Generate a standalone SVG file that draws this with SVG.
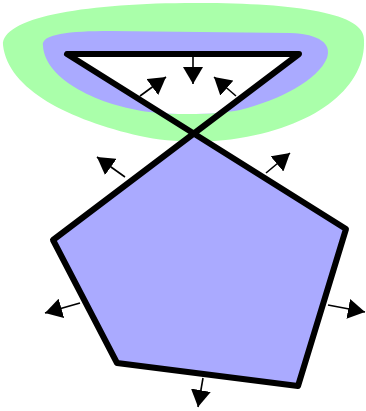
<svg xmlns="http://www.w3.org/2000/svg" width="366" height="411" viewBox="0 0 366 411">
<style>
.green{fill:#aaffaa;stroke:none}
.blue{fill:#aaaaff;stroke:none}
.hole{fill:#ffffff;stroke:none}
.outline{fill:none;stroke:#000;stroke-width:6;stroke-linejoin:round}
.arrow{stroke:#000;stroke-width:1.6;fill:none;marker-end:url(#head)}
</style>
<defs>
<marker id="head" markerUnits="userSpaceOnUse" markerWidth="17" markerHeight="20" viewBox="0 0 17 20" refX="17" refY="10" orient="auto">
<path d="M0,0 L17,10 L0,20 Z" fill="#000"/>
</marker>
<clipPath id="innerClip">
<path d="M43,46 C40,34 70,31 110,31 L290,33 C320,34 332,44 327,58 C318,80 280,100 240,110 C215,115 175,115 150,112 C100,106 45,80 43,46 Z"/>
</clipPath>
</defs>
<rect width="366" height="411" fill="#fff"/>
<g id="offset-outer">
<path class="green" d="M3,45 C2,18 80,4 185,3 C290,2 366,12 364,40 C366,85 320,125 240,138 C215,143 170,143 140,136 C70,120 8,90 3,45 Z"/>
</g>
<g id="offset-inner">
<path class="blue" d="M43,46 C40,34 70,31 110,31 L290,33 C320,34 332,44 327,58 C318,80 280,100 240,110 C215,115 175,115 150,112 C100,106 45,80 43,46 Z"/>
</g>
<g id="hole">
<polygon class="hole" points="67,54 299,54 194,134" clip-path="url(#innerClip)"/>
</g>
<g id="pentagon">
<polygon class="blue" points="194,134 346,229 298,386 117,363 53,240"/>
</g>
<g id="outline">
<path class="outline" d="M67,54 L299,54 L53,240 L117,363 L298,386 L346,229 Z"/>
</g>
<g id="connectors">
<line class="arrow" x1="193" y1="57" x2="193" y2="84"/>
<line class="arrow" x1="140" y1="96" x2="166" y2="77"/>
<line class="arrow" x1="236" y1="96" x2="214" y2="77"/>
<line class="arrow" x1="125" y1="177" x2="97" y2="157"/>
<line class="arrow" x1="266" y1="173" x2="290" y2="153"/>
<line class="arrow" x1="80" y1="303" x2="45" y2="313"/>
<line class="arrow" x1="328" y1="305" x2="365" y2="312"/>
<line class="arrow" x1="203" y1="378" x2="198" y2="407"/>
</g>
</svg>
